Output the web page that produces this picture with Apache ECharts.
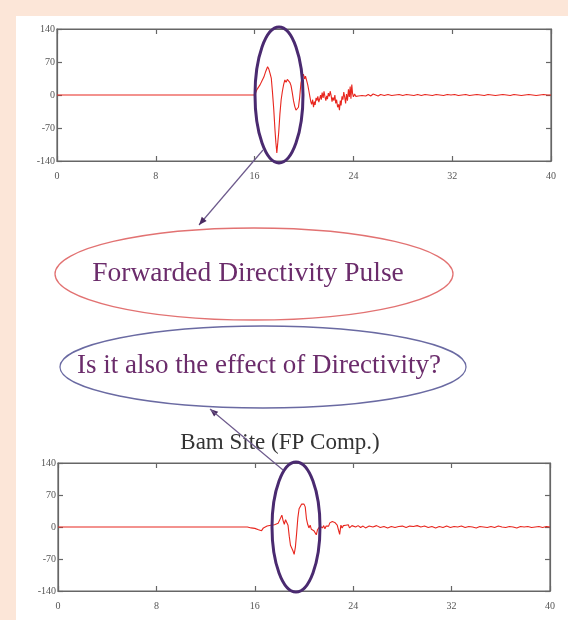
<!DOCTYPE html>
<html><head><meta charset="utf-8">
<script src="https://cdn.jsdelivr.net/npm/echarts/dist/echarts.min.js"></script>
<style>
html,body{margin:0;padding:0;background:#fce6d8;width:568px;height:620px;overflow:hidden;}
#panel{position:absolute;left:16px;top:16px;width:552px;height:604px;background:#fff;}
#chart{position:absolute;left:0;top:0;width:568px;height:620px;}
</style></head><body><div id="panel"></div><div id="chart"></div>
<script>
// ---- data ----
const xTicks = [0, 8, 16, 24, 32, 40];
const yTicks = [-140, -70, 0, 70, 140];
const topTime = [0,16.0,16.1,16.2,16.3,16.45,16.6,16.75,16.9,17.05,17.15,17.25,17.35,17.45,17.55,17.65,17.72,17.8,17.88,17.95,18.05,18.15,18.25,18.35,18.45,18.55,18.65,18.75,18.85,18.95,19.05,19.15,19.25,19.35,19.45,19.55,19.65,19.75,19.85,19.95,20.05,20.12,20.2,20.3,20.4,20.48,20.55,20.62,20.7,20.77,20.84,20.9,20.98,21.05,21.12,21.2,21.27,21.34,21.4,21.47,21.55,21.62,21.7,21.77,21.84,21.9,21.97,22.05,22.12,22.2,22.27,22.34,22.42,22.5,22.57,22.64,22.72,22.8,22.87,22.94,23.0,23.08,23.15,23.22,23.3,23.37,23.44,23.52,23.6,23.67,23.74,23.8,23.87,23.93,24.0,24.1,24.2,24.3,24.4,24.55,24.7,24.85,25.0,25.2,25.4,25.6,25.8,26.0,26.2,26.5,26.8,27.1,27.4,27.7,28.0,28.3,28.6,28.9,29.2,29.5,29.8,30.1,30.4,30.7,31.0,31.3,31.6,31.9,32.2,32.5,32.8,33.1,33.4,33.7,34.0,34.3,34.6,34.9,35.2,35.5,35.8,36.1,36.4,36.7,37.0,37.3,37.6,37.9,38.2,38.5,38.8,39.1,39.4,39.7,40];
const topValue = [0,0,4,12,15,22,30,38,50,60,55,46,36,5,-30,-74,-100,-123,-100,-80,-40,-10,8,22,32,27,33,30,27,20,5,-12,-24,-32,-30,-26,-5,25,38,44,34,40,36,22,8,-4,-14,-20,-10,-26,-14,-21,-6,-12,-3,-15,-8,0,-10,5,-6,8,-4,-12,-2,-9,4,-3,8,-2,-14,-5,-12,0,-18,-10,-26,-20,-32,-12,-22,-3,-10,6,-5,-18,2,-12,12,-4,18,-8,22,4,-4,2,-3,1,-2,2,-1,3,-2,1,-2,2,0,-2,1,-1,1,-1,0,1,-1,1,0,-1,1,-1,1,0,-1,1,0,-1,1,0,1,-1,0,1,-1,0,1,0,-1,1,0,-1,0,1,0,-1,1,0,-1,0,1,0,-1,0,1,0,0];
const bottomTime = [0,15.4,15.55,15.7,15.85,16.0,16.15,16.3,16.45,16.55,16.7,16.85,17.0,17.15,17.3,17.45,17.6,17.75,17.9,18.0,18.1,18.2,18.3,18.4,18.5,18.6,18.7,18.8,18.9,19.0,19.1,19.2,19.3,19.4,19.5,19.6,19.7,19.8,19.9,20.0,20.1,20.2,20.3,20.4,20.5,20.6,20.7,20.8,20.9,21.0,21.1,21.2,21.3,21.4,21.5,21.6,21.7,21.8,21.9,22.0,22.1,22.2,22.3,22.4,22.5,22.6,22.7,22.8,22.9,23.0,23.1,23.2,23.3,23.4,23.5,23.6,23.7,23.8,23.9,24.0,24.2,24.4,24.6,24.8,25.0,25.3,25.6,25.9,26.2,26.5,26.8,27.1,27.4,27.7,28.0,28.3,28.6,28.9,29.2,29.5,29.8,30.1,30.4,30.7,31.0,31.3,31.6,31.9,32.2,32.5,32.8,33.1,33.4,33.7,34.0,34.3,34.6,34.9,35.2,35.5,35.8,36.1,36.4,36.7,37.0,37.3,37.6,37.9,38.2,38.5,38.8,39.1,39.4,39.7,40];
const bottomValue = [0,0,2,-2,1,-3,-1,-6,-3,-8,-2,-5,2,-2,4,0,5,3,8,12,20,26,14,6,16,10,4,-20,-40,-46,-52,-60,-44,-14,20,40,44,50,48,50,44,18,6,-2,4,-5,-2,-8,-4,-17,-6,-10,2,6,-2,3,-4,2,6,2,9,6,12,15,10,12,4,-6,-16,4,-2,3,-1,4,1,5,-2,-4,3,4,0,3,-1,2,-2,2,0,3,-1,1,-2,1,-1,1,2,-1,2,1,3,0,2,-1,1,-2,1,-1,2,-1,1,0,2,-1,1,0,-2,1,0,-1,1,-1,2,0,-1,1,0,-2,1,0,1,-1,0,1,-1,1,0];
const notes = {
  pulse: 'Forwarded Directivity Pulse',
  question: 'Is it also the effect of Directivity?',
  site: 'Bam Site (FP Comp.)'
};

// ---- chart ----
const AX = '#666';
const SERIF = '"Liberation Serif", "DejaVu Serif", serif';
const grids = [
  {left: 57, right: 17, top: 29, height: 132, show: true, borderColor: AX, borderWidth: 1.2},
  {left: 58, right: 18, top: 463, height: 128, show: true, borderColor: AX, borderWidth: 1.2}
];
function xAx(g, pos) {
  return {type: 'value', gridIndex: g, position: pos, min: xTicks[0], max: xTicks[xTicks.length-1], interval: xTicks[1]-xTicks[0],
    axisLine: {show: true, onZero: false, lineStyle: {color: AX, width: 1.2}},
    axisTick: {show: true, inside: true, length: 5, lineStyle: {color: AX, width: 1.2}},
    axisLabel: {show: pos === 'bottom', color: '#555', fontFamily: SERIF, fontSize: 10, margin: 10},
    splitLine: {show: false}};
}
function yAx(g, pos) {
  return {type: 'value', gridIndex: g, position: pos, min: yTicks[0], max: yTicks[yTicks.length-1], interval: yTicks[1]-yTicks[0],
    axisLine: {show: true, onZero: false, lineStyle: {color: AX, width: 1.2}},
    axisTick: {show: true, inside: true, length: 5, lineStyle: {color: AX, width: 1.2}},
    axisLabel: {show: pos === 'left', color: '#555', fontFamily: SERIF, fontSize: 10, margin: 2},
    splitLine: {show: false}};
}
function pairs(t, v) { return t.map((x, i) => [x, v[i]]); }

function arrowHead(x1, y1, x2, y2, color) {
  const a = Math.atan2(y2 - y1, x2 - x1), L = 8, W = 3.2;
  const bx = x2 - L * Math.cos(a), by = y2 - L * Math.sin(a);
  return {type: 'polygon', z: 100, shape: {points: [[x2, y2], [bx + W * Math.sin(a), by - W * Math.cos(a)], [bx - W * Math.sin(a), by + W * Math.cos(a)]]},
    style: {fill: color}};
}
const ARW = '#6d5a8c';
const graphics = [
  {type: 'ellipse', z: 100, shape: {cx: 279, cy: 95, rx: 24, ry: 68}, style: {fill: 'none', stroke: '#4a2a70', lineWidth: 3}},
  {type: 'ellipse', z: 100, shape: {cx: 296, cy: 527, rx: 24, ry: 65}, style: {fill: 'none', stroke: '#4a2a70', lineWidth: 3}},
  {type: 'line', z: 100, shape: {x1: 263, y1: 150, x2: 199, y2: 225}, style: {stroke: ARW, lineWidth: 1.2}},
  arrowHead(263, 150, 199, 225, '#4a2a60'),
  {type: 'ellipse', z: 100, shape: {cx: 254, cy: 274, rx: 199, ry: 46}, style: {fill: 'none', stroke: '#e27272', lineWidth: 1.3}},
  {type: 'ellipse', z: 100, shape: {cx: 263, cy: 367, rx: 203, ry: 41}, style: {fill: 'none', stroke: '#6a6aa2', lineWidth: 1.3}},
  {type: 'text', z: 100, x: 248, y: 274, style: {text: notes.pulse, fill: '#6b2c6b', font: '27.5px ' + SERIF, align: 'center', verticalAlign: 'middle'}},
  {type: 'text', z: 100, x: 259, y: 366, style: {text: notes.question, fill: '#6b2c6b', font: '27px ' + SERIF, align: 'center', verticalAlign: 'middle'}},
  {type: 'text', z: 100, x: 280, y: 443, style: {text: notes.site, fill: '#333', font: '23px ' + SERIF, align: 'center', verticalAlign: 'middle'}},
  {type: 'line', z: 101, shape: {x1: 283, y1: 470, x2: 210, y2: 409}, style: {stroke: ARW, lineWidth: 1.2}},
  arrowHead(283, 470, 210, 409, '#4a2a60')
];

const chart = echarts.init(document.getElementById('chart'), null, {renderer: 'canvas'});
chart.setOption({
  animation: false,
  backgroundColor: 'transparent',
  grid: grids,
  xAxis: [xAx(0, 'bottom'), xAx(0, 'top'), xAx(1, 'bottom'), xAx(1, 'top')],
  yAxis: [yAx(0, 'left'), yAx(0, 'right'), yAx(1, 'left'), yAx(1, 'right')],
  series: [
    {type: 'line', xAxisIndex: 0, yAxisIndex: 0, data: pairs(topTime, topValue), showSymbol: false, lineStyle: {color: '#e8261e', width: 1.1}},
    {type: 'line', xAxisIndex: 2, yAxisIndex: 2, data: pairs(bottomTime, bottomValue), showSymbol: false, lineStyle: {color: '#e8261e', width: 1.1}}
  ],
  graphic: graphics
});
</script></body></html>
